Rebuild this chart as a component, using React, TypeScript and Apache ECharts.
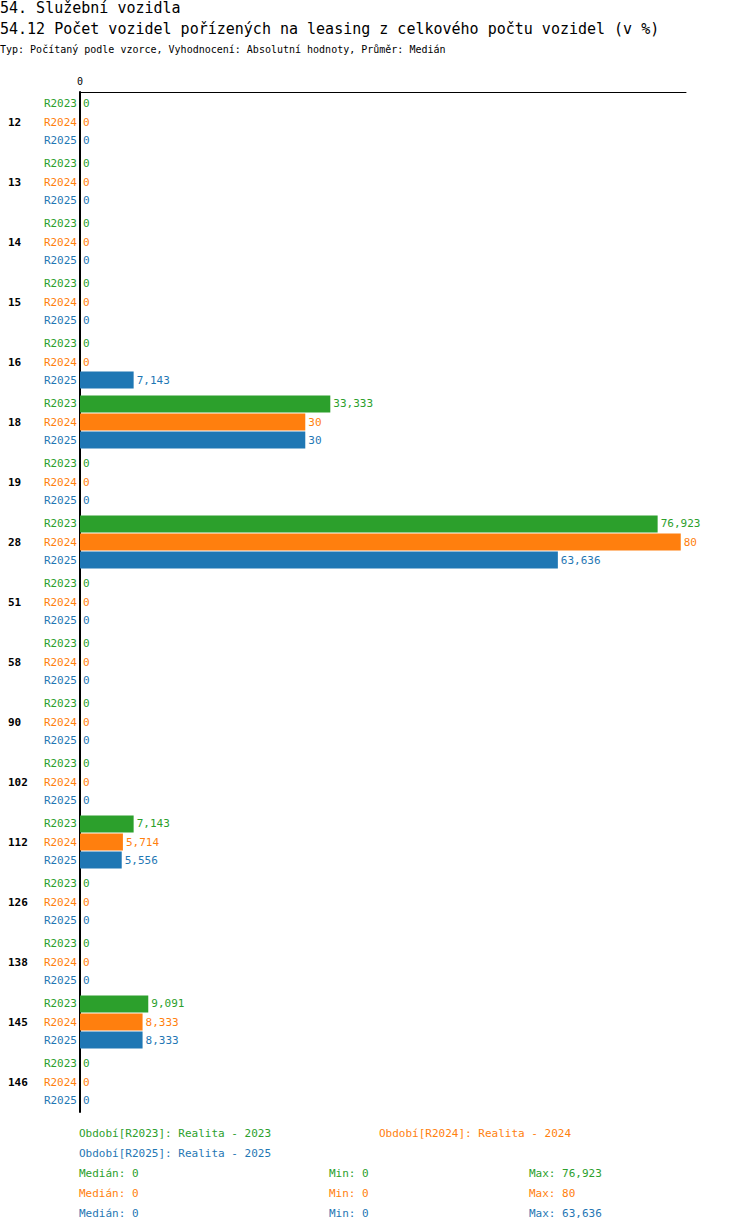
import { useEffect, useRef } from 'react';
import * as echarts from 'echarts';

const groups = ['12', '13', '14', '15', '16', '18', '19', '28', '51', '58', '90', '102', '112', '126', '138', '145', '146'];
const periods = ['R2023', 'R2024', 'R2025'];
const colors = ['#2ca02c', '#ff7f0e', '#1f77b4'];
const values2023 = [0, 0, 0, 0, 0, 33.333, 0, 76.923, 0, 0, 0, 0, 7.143, 0, 0, 9.091, 0];
const values2024 = [0, 0, 0, 0, 0, 30, 0, 80, 0, 0, 0, 0, 5.714, 0, 0, 8.333, 0];
const values2025 = [0, 0, 0, 0, 7.143, 30, 0, 63.636, 0, 0, 0, 0, 5.556, 0, 0, 8.333, 0];
const legendNames = ['Období[R2023]: Realita - 2023', 'Období[R2024]: Realita - 2024', 'Období[R2025]: Realita - 2025'];
const stats = [
  ['Medián: 0', 'Min: 0', 'Max: 76,923'],
  ['Medián: 0', 'Min: 0', 'Max: 80'],
  ['Medián: 0', 'Min: 0', 'Max: 63,636'],
];

const FONT = '"DejaVu Sans Mono", monospace';
const fmt = (v: number) => String(Math.round(v * 1000) / 1000).replace('.', ',');

export default function App() {
  const ref = useRef<HTMLDivElement>(null);

  useEffect(() => {
    document.body.style.margin = '0';
    if (!ref.current) return;
    const chart = echarts.init(ref.current, undefined, { renderer: 'svg' });
    const all = [values2023, values2024, values2025];

    const series: any[] = [];
    all.forEach((vals, i) => {
      series.push({
        type: 'bar',
        stack: periods[i],
        data: vals.map(() => 0),
        barWidth: 17,
        itemStyle: { color: colors[i] },
        label: { show: true, position: 'left', distance: 3, formatter: periods[i], color: colors[i], fontFamily: FONT, fontSize: 11 },
        silent: true,
      });
      series.push({
        type: 'bar',
        stack: periods[i],
        data: vals,
        barWidth: 17,
        barGap: '6%',
        itemStyle: { color: colors[i] },
        label: { show: true, position: 'right', distance: 3, formatter: (p: any) => fmt(p.value), color: colors[i], fontFamily: FONT, fontSize: 11 },
      });
    });

    const texts: any[] = [
      { type: 'text', left: 0, top: 0, style: { text: '54. Služební vozidla', font: `15px ${FONT}`, fill: '#000' } },
      { type: 'text', left: 0, top: 21, style: { text: '54.12 Počet vozidel pořízených na leasing z celkového počtu vozidel (v %)', font: `15px ${FONT}`, fill: '#000' } },
      { type: 'text', left: 0, top: 44, style: { text: 'Typ: Počítaný podle vzorce, Vyhodnocení: Absolutní hodnoty, Průměr: Medián', font: `10px ${FONT}`, fill: '#000' } },
      { type: 'text', left: 79, top: 1128, style: { text: legendNames[0], font: `11px ${FONT}`, fill: colors[0] } },
      { type: 'text', left: 379, top: 1128, style: { text: legendNames[1], font: `11px ${FONT}`, fill: colors[1] } },
      { type: 'text', left: 79, top: 1148, style: { text: legendNames[2], font: `11px ${FONT}`, fill: colors[2] } },
    ];
    stats.forEach((row, i) => {
      [79, 329, 529].forEach((x, j) => {
        texts.push({ type: 'text', left: x, top: 1168 + i * 20, style: { text: row[j], font: `11px ${FONT}`, fill: colors[i] } });
      });
    });

    chart.setOption({
      animation: false,
      grid: { left: 80, right: 64, top: 92, bottom: 120 },
      xAxis: {
        type: 'value',
        position: 'top',
        min: 0,
        max: 80.7,
        axisLine: { show: true, lineStyle: { color: '#000', width: 1 } },
        axisTick: { show: false },
        splitLine: { show: false },
        axisLabel: { formatter: (v: number) => (v === 0 ? '0' : ''), fontFamily: FONT, fontSize: 10, color: '#000', margin: 6 },
      },
      yAxis: {
        type: 'category',
        inverse: true,
        data: groups,
        axisLine: { lineStyle: { color: '#000', width: 2 } },
        axisTick: { show: false },
        axisLabel: {
          align: 'left',
          margin: 72,
          fontFamily: FONT,
          fontSize: 11,
          fontWeight: 'bold',
          color: '#000',
          padding: [0, 0, 42, 0],
        },
      },
      series,
      graphic: texts,
    });

    return () => chart.dispose();
  }, []);

  return <div ref={ref} style={{ width: 750, height: 1232 }} />;
}
